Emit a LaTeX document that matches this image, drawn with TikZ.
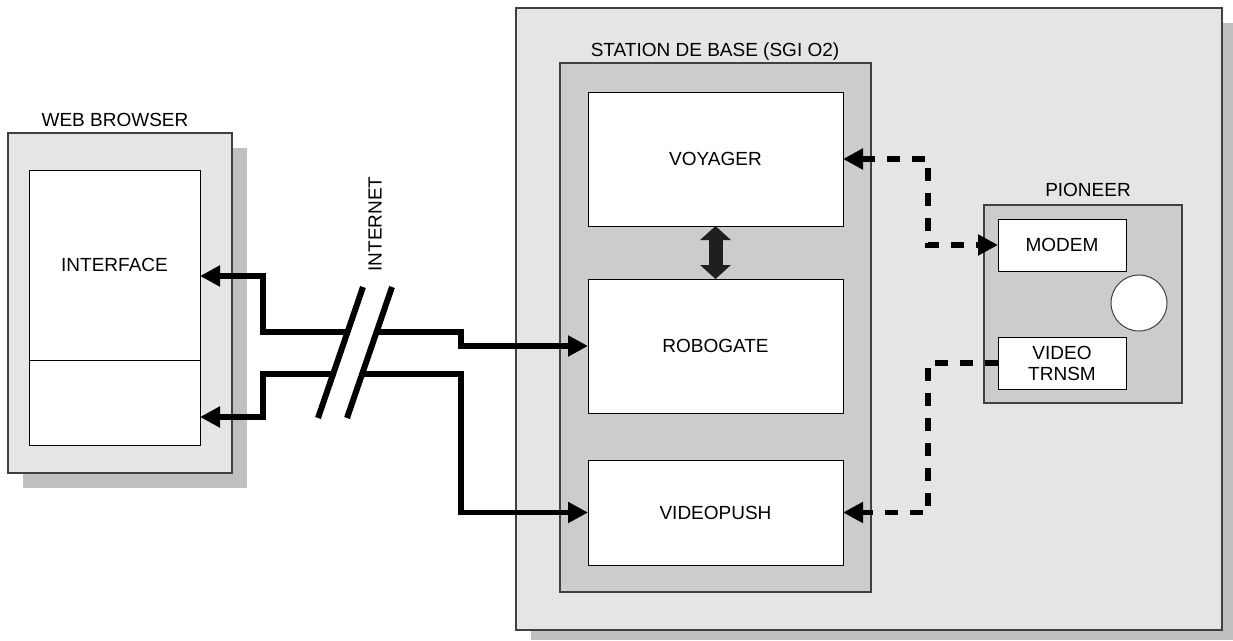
\documentclass[tikz,border=0pt]{standalone}
\usepackage{fontspec}
\setmainfont{Liberation Sans}
\usetikzlibrary{arrows.meta}
\definecolor{light}{HTML}{E5E5E5}
\definecolor{mid}{HTML}{CCCCCC}
\definecolor{shade}{HTML}{C0C0C0}
\definecolor{edge}{HTML}{404040}
\begin{document}
\begin{tikzpicture}[x=1pt,y=-1pt,
  font=\fontsize{19}{22}\selectfont,
  >={Triangle[length=20pt,width=20pt]},
  panel/.style={draw=edge, line width=1.3pt, fill=light, inner sep=0pt, outer sep=0pt},
  innerpanel/.style={draw=edge, line width=1.3pt, fill=mid, inner sep=0pt, outer sep=0pt},
  wbox/.style={draw=black, line width=1pt, fill=white, inner sep=0pt, outer sep=0pt, align=center},
  lbl/.style={inner sep=0pt, outer sep=0pt},
  shadowbox/.style={fill=shade, draw=none},
  link/.style={line width=5.5pt},
  dlink/.style={line width=5.5pt, dash pattern=on 13pt off 12pt}
]
\useasboundingbox (0,0) rectangle (1233,640);

% shadows
\fill[shadowbox] (23,148) rectangle (247,488);
\fill[shadowbox] (531,23) rectangle (1233,640);

% web browser
\node[panel, minimum width=224pt, minimum height=340pt] (browser) at (120,303) {};
\node[lbl] (browserlbl) at (115,120) {WEB BROWSER};
\node[wbox, minimum width=171pt, minimum height=190pt] (iface) at (114.5,265) {INTERFACE};
\node[wbox, minimum width=171pt, minimum height=85pt] (iface2) at (114.5,402.5) {};

% station
\node[panel, minimum width=706pt, minimum height=622pt] (station) at (869,319) {};
\node[innerpanel, minimum width=311pt, minimum height=529pt] (stinner) at (715.5,327.5) {};
\node[lbl] (stlbl) at (715,52) {STATION DE BASE (SGI O2)};
\node[wbox, minimum width=255pt, minimum height=134pt] (voyager) at (715.5,159) {VOYAGER};
\node[wbox, minimum width=255pt, minimum height=134pt] (robogate) at (715.5,346) {ROBOGATE};
\node[wbox, minimum width=255pt, minimum height=105pt] (videopush) at (715.5,512.5) {VIDEOPUSH};

% pioneer
\node[innerpanel, minimum width=198pt, minimum height=198pt] (pioneer) at (1083,304) {};
\node[lbl] (pionlbl) at (1088,190) {PIONEER};
\node[wbox, minimum width=128pt, minimum height=52pt] (modem) at (1062,245) {MODEM};
\node[wbox, minimum width=128pt, minimum height=52pt] (vtr) at (1062,363) {VIDEO\\[-1pt]TRNSM};
\node[circle, draw=edge, fill=white, line width=1pt, minimum size=56pt, inner sep=0pt] (wheel) at (1139,303) {};

% internal double arrow
\draw[line width=14pt, color=black!88,
  {Triangle[length=14pt,width=30pt]}-{Triangle[length=14pt,width=30pt]}]
  (voyager.south) -- (robogate.north);

% internet connectors
\draw[link,<->] ([yshift=-11pt]iface.east) -| (263,332) -- (461,332) |- (robogate.west);
\draw[link,<->] ([yshift=-14.5pt]iface2.east) -| (263,374) -- (461,374) |- (videopush.west);

% break marks
\fill[white] (318,418) -- (363,287) -- (392,287) -- (347,418) -- cycle;
\draw[line width=6pt] (318,418) -- (363,287) (347,418) -- (392,287);
\node[lbl, rotate=90] (inetlbl) at (375,224) {INTERNET};

% dashed connectors
\draw[dlink,<->] (voyager.east) -| (928,245) -- (modem.west);
\draw[dlink,->] (vtr.west) -| (928,512.5) -- (videopush.east);
\end{tikzpicture}
\end{document}
